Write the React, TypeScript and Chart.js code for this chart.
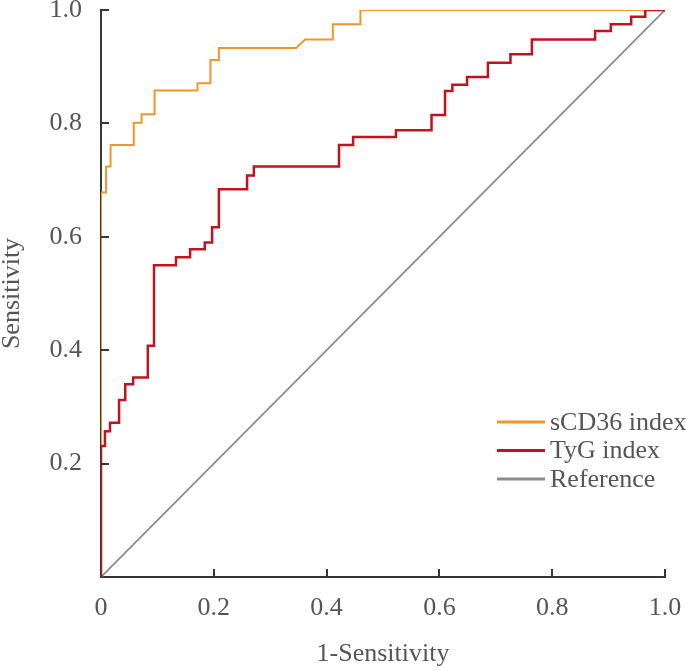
import React, { useEffect, useRef } from "react";
import { Chart, registerables } from "chart.js";

Chart.register(...registerables);

// sCD36 index ROC vertices (1-Specificity, Sensitivity)
const sCD36X = [0, 0, 0.009, 0.009, 0.017, 0.017, 0.058, 0.058, 0.072, 0.072, 0.095, 0.095, 0.171, 0.171, 0.194, 0.194, 0.209, 0.209, 0.346, 0.362, 0.411, 0.411, 0.46, 0.46, 1];
const sCD36Y = [0, 0.678, 0.678, 0.724, 0.724, 0.762, 0.762, 0.801, 0.801, 0.816, 0.816, 0.858, 0.858, 0.871, 0.871, 0.912, 0.912, 0.933, 0.933, 0.948, 0.948, 0.975, 0.975, 1, 1];

// TyG index ROC vertices
const tygX = [0, 0, 0.007, 0.007, 0.016, 0.016, 0.032, 0.032, 0.043, 0.043, 0.057, 0.057, 0.083, 0.083, 0.094, 0.094, 0.133, 0.133, 0.158, 0.158, 0.184, 0.184, 0.197, 0.197, 0.209, 0.209, 0.259, 0.259, 0.271, 0.271, 0.422, 0.422, 0.447, 0.447, 0.523, 0.523, 0.586, 0.586, 0.61, 0.61, 0.623, 0.623, 0.649, 0.649, 0.686, 0.686, 0.726, 0.726, 0.764, 0.764, 0.876, 0.876, 0.904, 0.904, 0.94, 0.94, 0.965, 0.965, 1];
const tygY = [0, 0.231, 0.231, 0.257, 0.257, 0.272, 0.272, 0.312, 0.312, 0.34, 0.34, 0.352, 0.352, 0.408, 0.408, 0.55, 0.55, 0.564, 0.564, 0.578, 0.578, 0.59, 0.59, 0.617, 0.617, 0.684, 0.684, 0.708, 0.708, 0.724, 0.724, 0.762, 0.762, 0.776, 0.776, 0.788, 0.788, 0.815, 0.815, 0.857, 0.857, 0.868, 0.868, 0.882, 0.882, 0.907, 0.907, 0.922, 0.922, 0.948, 0.948, 0.963, 0.963, 0.975, 0.975, 0.988, 0.988, 1, 1];

// Reference diagonal
const refX = [0, 1];
const refY = [0, 1];

const seriesLabels = ["sCD36 index", "TyG index", "Reference"];
const seriesColors = ["#F0962A", "#C0121F", "#8C8C8C"];
const xTickValues = [0.2, 0.4, 0.6, 0.8, 1.0];
const yTickValues = [0.2, 0.4, 0.6, 0.8, 1.0];
const xTitle = "1-Sensitivity";
const yTitle = "Sensitivity";

const FONT = "'Liberation Serif', 'Times New Roman', serif";
const TEXT_COLOR = "#555555";
const AXIS_COLOR = "#3d3535";
const FONT_SIZE = 26;

const toPoints = (xs: number[], ys: number[]) => xs.map((x, i) => ({ x, y: ys[i] }));

const fmt = (v: number) => (v === 0 ? "0" : v.toFixed(1));

const innerTicksPlugin = {
  id: "innerTicks",
  afterDatasetsDraw(chart: any) {
    const { ctx, chartArea, scales } = chart;
    ctx.save();
    ctx.strokeStyle = AXIS_COLOR;
    ctx.lineWidth = 2;
    ctx.beginPath();
    xTickValues.forEach((v) => {
      const px = Math.round(scales.x.getPixelForValue(v));
      ctx.moveTo(px, chartArea.bottom);
      ctx.lineTo(px, chartArea.bottom - 8);
    });
    yTickValues.forEach((v) => {
      const py = Math.round(scales.y.getPixelForValue(v));
      ctx.moveTo(chartArea.left, py);
      ctx.lineTo(chartArea.left + 8, py);
    });
    ctx.stroke();
    ctx.restore();
  },
};

const legendPlugin = {
  id: "customLegend",
  afterDraw(chart: any) {
    const { ctx, chartArea } = chart;
    const x0 = chartArea.right - 168;
    const y0 = chartArea.bottom - 155;
    const rowH = 28.5;
    ctx.save();
    ctx.font = `${FONT_SIZE}px ${FONT}`;
    ctx.textBaseline = "middle";
    ctx.textAlign = "left";
    seriesLabels.forEach((label, i) => {
      const y = y0 + i * rowH;
      ctx.strokeStyle = seriesColors[i];
      ctx.lineWidth = 3;
      ctx.beginPath();
      ctx.moveTo(x0, y);
      ctx.lineTo(x0 + 48, y);
      ctx.stroke();
      ctx.fillStyle = TEXT_COLOR;
      ctx.fillText(label, x0 + 53, y + 1);
    });
    ctx.restore();
  },
};

export default function App() {
  const canvasRef = useRef<HTMLCanvasElement | null>(null);

  useEffect(() => {
    document.body.style.margin = "0";
    const canvas = canvasRef.current;
    if (!canvas) return;
    const chart = new Chart(canvas, {
      type: "scatter",
      data: {
        datasets: [
          {
            label: seriesLabels[1],
            data: toPoints(tygX, tygY),
            borderColor: seriesColors[1],
            backgroundColor: seriesColors[1],
            borderWidth: 2.5,
            showLine: true,
            pointRadius: 0,
            tension: 0,
            order: 0,
          },
          {
            label: seriesLabels[0],
            data: toPoints(sCD36X, sCD36Y),
            borderColor: seriesColors[0],
            backgroundColor: seriesColors[0],
            borderWidth: 2,
            showLine: true,
            pointRadius: 0,
            tension: 0,
            order: 1,
          },
          {
            label: seriesLabels[2],
            data: toPoints(refX, refY),
            borderColor: seriesColors[2],
            backgroundColor: seriesColors[2],
            borderWidth: 1.8,
            showLine: true,
            pointRadius: 0,
            tension: 0,
            order: 2,
          },
        ],
      },
      options: {
        responsive: false,
        animation: false,
        layout: { padding: { top: 10, right: 21, left: 0, bottom: 0 } },
        plugins: {
          legend: { display: false },
          tooltip: { enabled: false },
        },
        scales: {
          x: {
            type: "linear",
            min: 0,
            max: 1,
            afterFit(scale: any) {
              scale.height = 94;
              scale.paddingLeft = 0;
              scale.paddingRight = 0;
            },
            ticks: {
              stepSize: 0.2,
              padding: 16,
              color: TEXT_COLOR,
              font: { family: FONT, size: FONT_SIZE },
              callback: (v: any) => fmt(Number(v)),
              maxRotation: 0,
            },
            grid: { drawOnChartArea: false, drawTicks: false },
            border: { color: AXIS_COLOR, width: 2 },
            title: {
              display: true,
              text: xTitle,
              color: TEXT_COLOR,
              font: { family: FONT, size: FONT_SIZE },
              padding: { top: 0, bottom: 1 },
            },
          },
          y: {
            type: "linear",
            min: 0,
            max: 1,
            afterFit(scale: any) {
              scale.width = 101;
              scale.paddingTop = 0;
              scale.paddingBottom = 0;
            },
            ticks: {
              stepSize: 0.2,
              padding: 19,
              color: TEXT_COLOR,
              font: { family: FONT, size: FONT_SIZE },
              callback: (v: any) => (Number(v) === 0 ? "" : fmt(Number(v))),
            },
            grid: { drawOnChartArea: false, drawTicks: false },
            border: { color: AXIS_COLOR, width: 2 },
            title: {
              display: true,
              text: yTitle,
              color: TEXT_COLOR,
              font: { family: FONT, size: FONT_SIZE, lineHeight: 0.9 },
              padding: { top: 0, bottom: 0 },
            },
          },
        },
      },
      plugins: [innerTicksPlugin, legendPlugin],
    } as any);
    return () => chart.destroy();
  }, []);

  return (
    <div style={{ width: 686, height: 671 }}>
      <canvas ref={canvasRef} width={686} height={671} />
    </div>
  );
}
